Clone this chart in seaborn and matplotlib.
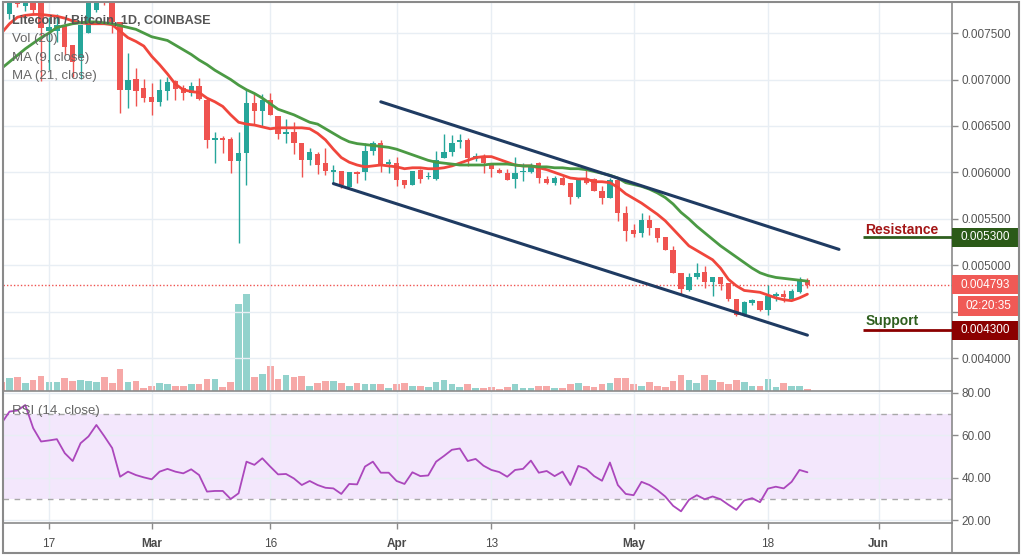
import numpy as np
import pandas as pd
import matplotlib
matplotlib.use("Agg")
import matplotlib.pyplot as plt
import matplotlib.dates as mdates
import matplotlib.transforms as mtransforms
from matplotlib.patches import Rectangle
from matplotlib.lines import Line2D
from matplotlib.ticker import FixedFormatter
import seaborn as sns

# ---------------- data (LTC/BTC daily, Coinbase) ----------------
start_date = "2020-02-11"

opens = [0.00775, 0.00771, 0.00788, 0.00779, 0.00795, 0.00786,
         0.00752, 0.00752, 0.00758, 0.00737, 0.00723, 0.00750, 0.00775, 0.00800, 0.00792, 0.00762,
         0.00689, 0.00701, 0.00691, 0.00681, 0.00676, 0.00688, 0.00698, 0.00691, 0.00685, 0.00693,
         0.00678, 0.00635, 0.00637, 0.00636, 0.00612, 0.00621, 0.00675, 0.00666, 0.00678, 0.00661,
         0.00641, 0.00644, 0.00632, 0.00613, 0.00620, 0.00610, 0.00601, 0.00602, 0.00584, 0.00600,
         0.00600, 0.00623, 0.00632, 0.00609, 0.00610, 0.00592, 0.00587, 0.00603, 0.00595, 0.00593,
         0.00616, 0.00622, 0.00633, 0.00635, 0.00614, 0.00618, 0.00609, 0.00603, 0.00599, 0.00593,
         0.00600, 0.00600, 0.00610, 0.00593, 0.00589, 0.00594, 0.00589, 0.00574, 0.00593, 0.00593,
         0.00580, 0.00573, 0.00592, 0.00556, 0.00538, 0.00535, 0.00549, 0.00540, 0.00531, 0.00516,
         0.00492, 0.00474, 0.00488, 0.00493, 0.00482, 0.00487, 0.00481, 0.00464, 0.00448, 0.00459,
         0.00462, 0.00452, 0.00467, 0.00469, 0.00464, 0.00471, 0.00484]

highs = [0.00785, 0.00800, 0.00795, 0.00790, 0.00805, 0.00795,
         0.00767, 0.00770, 0.00760, 0.00737, 0.00759, 0.00790, 0.00800, 0.00810, 0.00800, 0.00762,
         0.00728, 0.00712, 0.00701, 0.00696, 0.00701, 0.00703, 0.00700, 0.00694, 0.00697, 0.00702,
         0.00680, 0.00644, 0.00639, 0.00638, 0.00644, 0.00690, 0.00685, 0.00684, 0.00685, 0.00661,
         0.00657, 0.00654, 0.00632, 0.00626, 0.00622, 0.00626, 0.00608, 0.00602, 0.00600, 0.00602,
         0.00632, 0.00634, 0.00635, 0.00614, 0.00617, 0.00592, 0.00602, 0.00604, 0.00601, 0.00623,
         0.00641, 0.00640, 0.00641, 0.00637, 0.00621, 0.00620, 0.00610, 0.00605, 0.00604, 0.00617,
         0.00610, 0.00610, 0.00611, 0.00596, 0.00596, 0.00596, 0.00589, 0.00594, 0.00603, 0.00594,
         0.00585, 0.00594, 0.00593, 0.00564, 0.00544, 0.00556, 0.00554, 0.00540, 0.00531, 0.00521,
         0.00492, 0.00492, 0.00503, 0.00499, 0.00488, 0.00488, 0.00481, 0.00464, 0.00462, 0.00464,
         0.00462, 0.00479, 0.00471, 0.00474, 0.00475, 0.00487, 0.00486]

lows = [0.00755, 0.00765, 0.00778, 0.00774, 0.00769, 0.00698,
        0.00710, 0.00740, 0.00726, 0.00703, 0.00701, 0.00750, 0.00773, 0.00780, 0.00750, 0.00664,
        0.00669, 0.00671, 0.00676, 0.00662, 0.00671, 0.00678, 0.00678, 0.00678, 0.00682, 0.00678,
        0.00626, 0.00610, 0.00621, 0.00599, 0.00524, 0.00586, 0.00651, 0.00650, 0.00662, 0.00636,
        0.00632, 0.00620, 0.00595, 0.00608, 0.00598, 0.00597, 0.00589, 0.00583, 0.00584, 0.00589,
        0.00592, 0.00619, 0.00601, 0.00599, 0.00585, 0.00583, 0.00586, 0.00589, 0.00593, 0.00592,
        0.00616, 0.00618, 0.00626, 0.00607, 0.00612, 0.00599, 0.00595, 0.00599, 0.00592, 0.00583,
        0.00591, 0.00599, 0.00589, 0.00588, 0.00587, 0.00587, 0.00566, 0.00573, 0.00588, 0.00580,
        0.00566, 0.00572, 0.00548, 0.00526, 0.00530, 0.00531, 0.00533, 0.00525, 0.00516, 0.00492,
        0.00469, 0.00472, 0.00485, 0.00476, 0.00467, 0.00473, 0.00462, 0.00446, 0.00446, 0.00457,
        0.00451, 0.00447, 0.00462, 0.00461, 0.00464, 0.00470, 0.00476]

closes = [0.00765, 0.00792, 0.00781, 0.00783, 0.00775, 0.00755,
          0.00757, 0.00759, 0.00735, 0.00719, 0.00759, 0.00782, 0.00792, 0.00790, 0.00762, 0.00689,
          0.00700, 0.00688, 0.00680, 0.00676, 0.00689, 0.00697, 0.00690, 0.00686, 0.00693, 0.00679,
          0.00635, 0.00637, 0.00635, 0.00612, 0.00621, 0.00675, 0.00666, 0.00678, 0.00662, 0.00641,
          0.00643, 0.00632, 0.00613, 0.00622, 0.00608, 0.00602, 0.00603, 0.00587, 0.00600, 0.00598,
          0.00623, 0.00632, 0.00608, 0.00611, 0.00592, 0.00586, 0.00602, 0.00593, 0.00596, 0.00613,
          0.00622, 0.00632, 0.00635, 0.00616, 0.00618, 0.00610, 0.00604, 0.00599, 0.00592, 0.00599,
          0.00601, 0.00608, 0.00594, 0.00589, 0.00594, 0.00587, 0.00574, 0.00593, 0.00589, 0.00580,
          0.00573, 0.00592, 0.00556, 0.00537, 0.00534, 0.00549, 0.00540, 0.00529, 0.00516, 0.00492,
          0.00475, 0.00488, 0.00492, 0.00482, 0.00487, 0.00480, 0.00464, 0.00447, 0.00461, 0.00463,
          0.00452, 0.00467, 0.00469, 0.00466, 0.00472, 0.00485, 0.004793]

volumes = [27, 39, 42, 23, 32, 45,
           26, 26, 39, 29, 32, 29, 26, 42, 23, 65,
           26, 29, 10, 16, 23, 20, 16, 16, 20, 20,
           35, 35, 13, 26, 262, 291, 41, 52, 74, 35,
           48, 41, 45, 16, 23, 29, 29, 23, 16, 23,
           20, 20, 20, 10, 20, 23, 16, 16, 13, 26,
           32, 20, 13, 20, 10, 10, 13, 7, 13, 20,
           10, 10, 16, 16, 10, 10, 20, 23, 16, 13,
           20, 23, 39, 39, 20, 16, 26, 16, 13, 29,
           49, 32, 23, 49, 32, 26, 20, 32, 26, 16,
           16, 35, 13, 23, 16, 16, 7]

ma9 = [0.00750, 0.00760, 0.00767, 0.00769, 0.00770, 0.00770,
       0.00769, 0.00768, 0.00766, 0.00763, 0.00761, 0.00760, 0.00760, 0.00760, 0.00759, 0.00752,
       0.00745, 0.00741, 0.00736, 0.00725, 0.00716, 0.00706, 0.00695, 0.00689, 0.00687, 0.00686,
       0.00680, 0.00676, 0.00671, 0.00662, 0.00654, 0.00652, 0.00651, 0.00649, 0.00647, 0.00648,
       0.00648, 0.00648, 0.00648, 0.00647, 0.00642, 0.00635, 0.00625, 0.00616, 0.00611, 0.00608,
       0.00606, 0.00607, 0.00608, 0.00607, 0.00606, 0.00604, 0.00605, 0.00605, 0.00604, 0.00604,
       0.00605, 0.00607, 0.00610, 0.00613, 0.00616, 0.00617, 0.00617, 0.00614, 0.00611, 0.00608,
       0.00607, 0.00607, 0.00605, 0.00603, 0.00600, 0.00597, 0.00594, 0.00593, 0.00593, 0.00590,
       0.00590, 0.00589, 0.00584, 0.00577, 0.00572, 0.00567, 0.00561, 0.00555, 0.00548, 0.00539,
       0.00530, 0.00521, 0.00516, 0.00511, 0.00506, 0.00497, 0.00485, 0.00478, 0.00473, 0.00472,
       0.00471, 0.00468, 0.00465, 0.00463, 0.00462, 0.00465, 0.00469]

ma21 = [0.00712, 0.00719, 0.00726, 0.00733, 0.00739, 0.00745,
        0.00750, 0.00756, 0.00758, 0.00760, 0.00761, 0.00762, 0.00762, 0.00761, 0.00760, 0.00758,
        0.00756, 0.00754, 0.00750, 0.00746, 0.00744, 0.00742, 0.00737, 0.00732, 0.00727, 0.00721,
        0.00716, 0.00710, 0.00705, 0.00700, 0.00694, 0.00689, 0.00685, 0.00680, 0.00674, 0.00668,
        0.00665, 0.00662, 0.00658, 0.00654, 0.00652, 0.00647, 0.00642, 0.00637, 0.00633, 0.00631,
        0.00630, 0.00629, 0.00628, 0.00627, 0.00625, 0.00622, 0.00619, 0.00616, 0.00613, 0.00611,
        0.00610, 0.00609, 0.00608, 0.00608, 0.00608, 0.00608, 0.00609, 0.00609, 0.00609, 0.00608,
        0.00607, 0.00607, 0.00606, 0.00606, 0.00605, 0.00605, 0.00604, 0.00604, 0.00603, 0.00601,
        0.00599, 0.00597, 0.00594, 0.00589, 0.00587, 0.00585, 0.00582, 0.00578, 0.00573, 0.00566,
        0.00557, 0.00550, 0.00542, 0.00535, 0.00528, 0.00521, 0.00515, 0.00509, 0.00503, 0.00497,
        0.00492, 0.00489, 0.00487, 0.00486, 0.00485, 0.00484, 0.00483]

rsi = [65.6, 71.1, 71.6, 74.2, 63.3, 57.0,
       57.5, 58.1, 51.5, 47.8, 56.2, 59.4, 64.8, 59.5, 53.9, 40.4,
       42.8, 41.2, 40.1, 39.2, 42.8, 44.1, 42.8, 42.0, 43.9, 41.2,
       33.4, 33.7, 33.7, 29.9, 32.6, 47.5, 46.0, 49.1, 45.2, 41.5,
       41.7, 39.6, 36.5, 38.4, 36.5, 35.2, 34.9, 32.3, 37.0, 36.8,
       45.2, 47.5, 42.3, 42.3, 38.4, 37.0, 42.5, 40.7, 41.0, 47.5,
       50.2, 53.1, 53.7, 47.8, 48.8, 45.6, 43.6, 42.6, 40.4, 43.6,
       44.1, 48.0, 42.3, 43.1, 40.7, 42.8, 36.5, 45.5, 44.1, 40.7,
       38.5, 47.1, 36.5, 32.3, 31.7, 38.0, 36.5, 34.1, 31.1, 26.7,
       24.1, 29.5, 31.7, 29.8, 31.1, 29.8, 27.2, 24.8, 29.2, 30.3,
       28.4, 34.8, 35.7, 34.9, 38.0, 43.6, 42.5]

upper_channel_dates = ["2020-03-30", "2020-05-27"]
upper_channel_values = [0.006760, 0.005172]
lower_channel_dates = ["2020-03-24", "2020-05-23"]
lower_channel_values = [0.005880, 0.004249]

resistance_level = 0.0053
support_level = 0.0043
level_line_start = "2020-05-30"
last_price = 0.004793
countdown = "02:20:35"

price_ticks = [0.0040, 0.0045, 0.0050, 0.0055, 0.0060, 0.0065, 0.0070, 0.0075]
# the 0.004500 label sits under the countdown box in the original, so it is not shown
price_tick_labels = ["0.004000", "", "0.005000", "0.005500", "0.006000", "0.006500", "0.007000", "0.007500"]
rsi_ticks = [20, 40, 60, 80]
rsi_tick_labels = ["20.00", "40.00", "60.00", "80.00"]
date_ticks = ["2020-02-17", "2020-03-01", "2020-03-16", "2020-04-01",
              "2020-04-13", "2020-05-01", "2020-05-18", "2020-06-01"]
date_tick_labels = ["17", "Mar", "16", "Apr", "13", "May", "18", "Jun"]

legend_lines = ["Litecoin / Bitcoin, 1D, COINBASE", "Vol (20)", "MA (9, close)", "MA (21, close)"]

# ---------------- style ----------------
sns.set_theme(style="white")
plt.rcParams['font.family'] = ['Liberation Sans', 'DejaVu Sans']

UP, DOWN = "#26a69a", "#ef5350"
GRID = "#e8eef4"
AXC = "#8a8a8a"
TXT = "#555555"

W, H = 1025, 560
fig = plt.figure(figsize=(W / 100, H / 100), dpi=100)
fig.patch.set_facecolor("white")


def fx(px):
    return px / W


def fy(py):
    return 1 - py / H


L, R = 3, 952
T_main, B_main, B_rsi = 2, 391, 523
main_rect = [fx(L), fy(B_main), fx(R) - fx(L), fy(T_main) - fy(B_main)]
rsi_rect = [fx(L), fy(B_rsi), fx(R) - fx(L), fy(B_main) - fy(B_rsi)]

ax_vol = fig.add_axes(main_rect)
ax = fig.add_axes(main_rect)
ax_rsi = fig.add_axes(rsi_rect)

dates = pd.date_range(start_date, periods=len(opens), freq="D")
x = mdates.date2num(dates.to_pydatetime())
anchor = mdates.date2num(pd.Timestamp("2020-02-17").to_pydatetime())
xlim = (anchor - 5.82, anchor + 114.3)
ylim_price = (0.003648, 0.007834)

o, h, l, c = map(np.array, (opens, highs, lows, closes))
col = np.where(c >= o, UP, DOWN)

# volume
ax_vol.bar(x, volumes, width=0.84, color=col, alpha=0.5, linewidth=0)
ax_vol.set_xlim(*xlim)
ax_vol.set_ylim(0, 1167)
ax_vol.axis("off")

# grid + candles
ax.patch.set_visible(False)
ax.set_xlim(*xlim)
ax.set_ylim(*ylim_price)
tick_nums = mdates.date2num(pd.to_datetime(date_ticks).to_pydatetime())
ax.set_xticks(tick_nums)
ax.set_yticks(price_ticks)
ax.yaxis.set_major_formatter(FixedFormatter(price_tick_labels))
ax.grid(True, color=GRID, lw=1)
ax.set_axisbelow(True)

ax.vlines(x, l, h, colors=col, lw=1, zorder=3)
body_lo = np.minimum(o, c)
body_h = np.maximum(np.abs(c - o), 1.3e-5)
ax.bar(x, body_h, bottom=body_lo, width=0.68, color=col, linewidth=0, zorder=4)

sns.lineplot(x=x, y=ma9, ax=ax, color="#f0463c", lw=2, zorder=5)
sns.lineplot(x=x, y=ma21, ax=ax, color="#4b9a44", lw=2, zorder=5)

ax.plot(mdates.date2num(pd.to_datetime(upper_channel_dates).to_pydatetime()), upper_channel_values,
        color="#1f3b62", lw=2.2, zorder=6, solid_capstyle="round")
ax.plot(mdates.date2num(pd.to_datetime(lower_channel_dates).to_pydatetime()), lower_channel_values,
        color="#1f3b62", lw=2.2, zorder=6, solid_capstyle="round")

ax.axhline(last_price, color=DOWN, ls=(0, (1, 1.5)), lw=1, zorder=2)

ls_num = mdates.date2num(pd.Timestamp(level_line_start).to_pydatetime())
ax.hlines(resistance_level, ls_num, xlim[1], color="#2e5f1e", lw=2, zorder=6, clip_on=False)
ax.hlines(support_level, ls_num, xlim[1], color="#8b0000", lw=2, zorder=6, clip_on=False)
span = (ylim_price[1] - ylim_price[0]) / (B_main - T_main)
ax.text(ls_num + 0.35, resistance_level + 3.5 * span, "Resistance", color="#a31515",
        fontsize=10, fontweight="bold", va="baseline", ha="left", zorder=7)
ax.text(ls_num + 0.35, support_level + 5 * span, "Support", color="#2e5f1e",
        fontsize=10, fontweight="bold", va="baseline", ha="left", zorder=7)

ax.yaxis.tick_right()
ax.tick_params(axis="x", bottom=False, labelbottom=False, top=False)
ax.tick_params(axis="y", right=True, left=False, length=4, width=1, color=AXC,
               labelsize=8.5, labelcolor=TXT, pad=3)
for s in ["left", "top", "bottom"]:
    ax.spines[s].set_visible(False)
ax.spines["right"].set_color(AXC)
ax.spines["right"].set_linewidth(1.2)
ax.set_xlabel("")
ax.set_ylabel("")

# right-side price boxes
trans = mtransforms.blended_transform_factory(fig.transFigure, ax.transData)


def price_box(yval, text, fc, x0=952, x1=1018, hpx=19):
    r = Rectangle((fx(x0), yval - hpx / 2 * span), fx(x1) - fx(x0), hpx * span,
                  transform=trans, facecolor=fc, edgecolor="none", clip_on=False, zorder=20)
    ax.add_patch(r)
    ax.text(fx((x0 + x1) / 2), yval, text, transform=trans, ha="center", va="center",
            color="white", fontsize=8.5, zorder=21, clip_on=False)


price_box(resistance_level, f"{resistance_level:.6f}", "#2b5a18")
price_box(support_level, f"{support_level:.6f}", "#8b0000")
price_box(last_price, f"{last_price:.6f}", "#f05a56")
price_box(last_price - 21 * span, countdown, "#f05a56", x0=958, x1=1018, hpx=20)

# legend text
fig.text(fx(12.5), fy(21), legend_lines[0], fontsize=9.1, fontweight="bold", color="#555555", va="center")
for i, t in enumerate(legend_lines[1:]):
    fig.text(fx(12.5), fy(39 + 18.5 * i), t, fontsize=9.5, color="#666666", va="center")

# ---------------- RSI ----------------
ax_rsi.set_xlim(*xlim)
ax_rsi.set_ylim(18.6, 80.8)
ax_rsi.axhspan(30, 70, color="#f3e7fc", zorder=0, lw=0)
ax_rsi.axhline(70, color="#a8a8a8", ls=(0, (4, 4)), lw=1, zorder=1)
ax_rsi.axhline(30, color="#a8a8a8", ls=(0, (4, 4)), lw=1, zorder=1)
sns.lineplot(x=x, y=rsi, ax=ax_rsi, color="#ab47bc", lw=1.3, zorder=3)
ax_rsi.set_xlabel("")
ax_rsi.set_ylabel("")
ax_rsi.set_xticks(tick_nums)
ax_rsi.set_xticklabels(date_tick_labels)
for lab in ax_rsi.get_xticklabels():
    if lab.get_text().isalpha():
        lab.set_fontweight("bold")
ax_rsi.set_yticks(rsi_ticks)
ax_rsi.yaxis.set_major_formatter(FixedFormatter(rsi_tick_labels))
ax_rsi.yaxis.tick_right()
ax_rsi.grid(True, color=GRID, lw=1)
ax_rsi.set_axisbelow(True)
ax_rsi.tick_params(axis="y", right=True, left=False, length=4, width=1, color=AXC,
                   labelsize=8.5, labelcolor=TXT, pad=3)
ax_rsi.tick_params(axis="x", bottom=True, length=4, width=1, color=AXC,
                   labelsize=8.5, labelcolor="#4a4a4a", pad=7)
ax_rsi.spines["left"].set_visible(False)
for s in ["top", "bottom", "right"]:
    ax_rsi.spines[s].set_color(AXC)
    ax_rsi.spines[s].set_linewidth(1.2)
ax_rsi.text(0.01, 0.85, "RSI (14, close)", transform=ax_rsi.transAxes, fontsize=9.5,
            color="#666666", va="center", ha="left")

# outer frame
fig.add_artist(Rectangle((fx(3), fy(553)), fx(1019) - fx(3), fy(2) - fy(553),
                         transform=fig.transFigure, fill=False, edgecolor=AXC, lw=1.5, zorder=30))
fig.add_artist(Line2D([fx(952), fx(952)], [fy(523), fy(553)], transform=fig.transFigure,
                      color=AXC, lw=1.2, zorder=30))

fig.savefig("out.png", dpi=100, facecolor="white")
